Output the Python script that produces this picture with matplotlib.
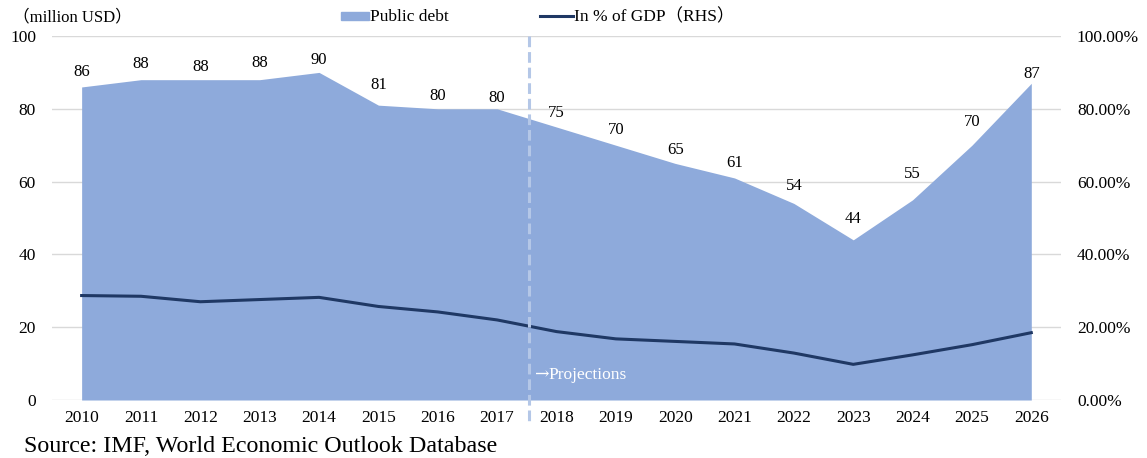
import numpy as np
import matplotlib.pyplot as plt

plt.rcParams['font.family'] = ['Liberation Serif', 'Noto Sans CJK JP', 'DejaVu Sans']

years = [str(y) for y in range(2010, 2027)]
public_debt = [86, 88, 88, 88, 90, 81, 80, 80, 75, 70, 65, 61, 54, 44, 55, 70, 87]
debt_pct_gdp = [28.7, 28.5, 27.0, 27.6, 28.2, 25.7, 24.2, 22.0, 18.8, 16.8, 16.1,
                15.4, 12.9, 9.8, 12.4, 15.2, 18.5]

# how far above each point its value label sits (in axis units)
label_lift = [4.2, 4.3, 3.6, 4.7, 3.4, 5.5, 3.6, 3.1, 3.8, 4.3, 3.8, 4.1, 4.9,
              5.6, 7.2, 6.3, 2.5]

fill_color = '#8eaadb'
line_color = '#1f3864'
grid_color = '#d9d9d9'
fs = 12.5

fig = plt.figure(figsize=(11.47, 4.58), dpi=100)
ax = fig.add_axes([0.0453, 0.1266, 0.8797, 0.7948])
ax2 = ax.twinx()

x = np.arange(len(years))

# left axis: debt amount as filled area
ax.fill_between(x, public_debt, 0, color=fill_color, lw=0, zorder=2)
for xi, v, d in zip(x, public_debt, label_lift):
    ax.text(xi, v + d, str(v), ha='center', va='center', fontsize=12, zorder=5)

ax.set_ylim(0, 100)
ax.set_yticks(range(0, 101, 20))
ax.set_xlim(-0.5, 16.5)
ax.set_xticks(x)
ax.set_xticklabels(years)
ax.yaxis.grid(True, color=grid_color, lw=1)
ax.set_axisbelow(True)
for s in ax.spines.values():
    s.set_visible(False)
ax.tick_params(axis='both', length=0, labelsize=fs)
ax.tick_params(axis='x', pad=7)
ax.tick_params(axis='y', pad=11.5)

# right axis: share of GDP
ax2.plot(x, debt_pct_gdp, color=line_color, lw=2.2, zorder=4)
ax2.set_ylim(0, 100)
ax2.set_yticks(range(0, 101, 20))
ax2.set_yticklabels([f'{v:.2f}%' for v in range(0, 101, 20)])
for s in ax2.spines.values():
    s.set_visible(False)
ax2.tick_params(axis='y', length=0, labelsize=fs, pad=11.5)

# projections divider
ax2.plot([7.537, 7.537], [100, -7], color='#b4c7e7', lw=2.2, ls=(0, (3.5, 1.6)),
         clip_on=False, zorder=6)
ax2.text(7.63, 6.9, '→', color='white', fontsize=fs, ha='left', va='center',
         family='DejaVu Serif', zorder=6)
ax2.text(7.86, 6.9, 'Projections', color='white', fontsize=fs, ha='left',
         va='center', zorder=6)

# header texts and legend
fig.text(0.0113, 0.963, '（million USD）', fontsize=12, ha='left', va='center')
fig.patches.append(plt.Rectangle((0.2970, 0.9563), 0.0250, 0.0175, color=fill_color,
                                 transform=fig.transFigure, figure=fig))
fig.text(0.3225, 0.963, 'Public debt', fontsize=fs, ha='left', va='center')
fig.lines.append(plt.Line2D([0.4708, 0.4995], [0.965, 0.965], color=line_color, lw=2.2,
                            transform=fig.transFigure, figure=fig))
fig.text(0.5005, 0.963, 'In % of GDP（RHS）', fontsize=fs, ha='left', va='center')

fig.text(0.021, 0.026, 'Source: IMF, World Economic Outlook Database', fontsize=17.3,
         ha='left', va='center')

fig.savefig('out.png', dpi=100)
